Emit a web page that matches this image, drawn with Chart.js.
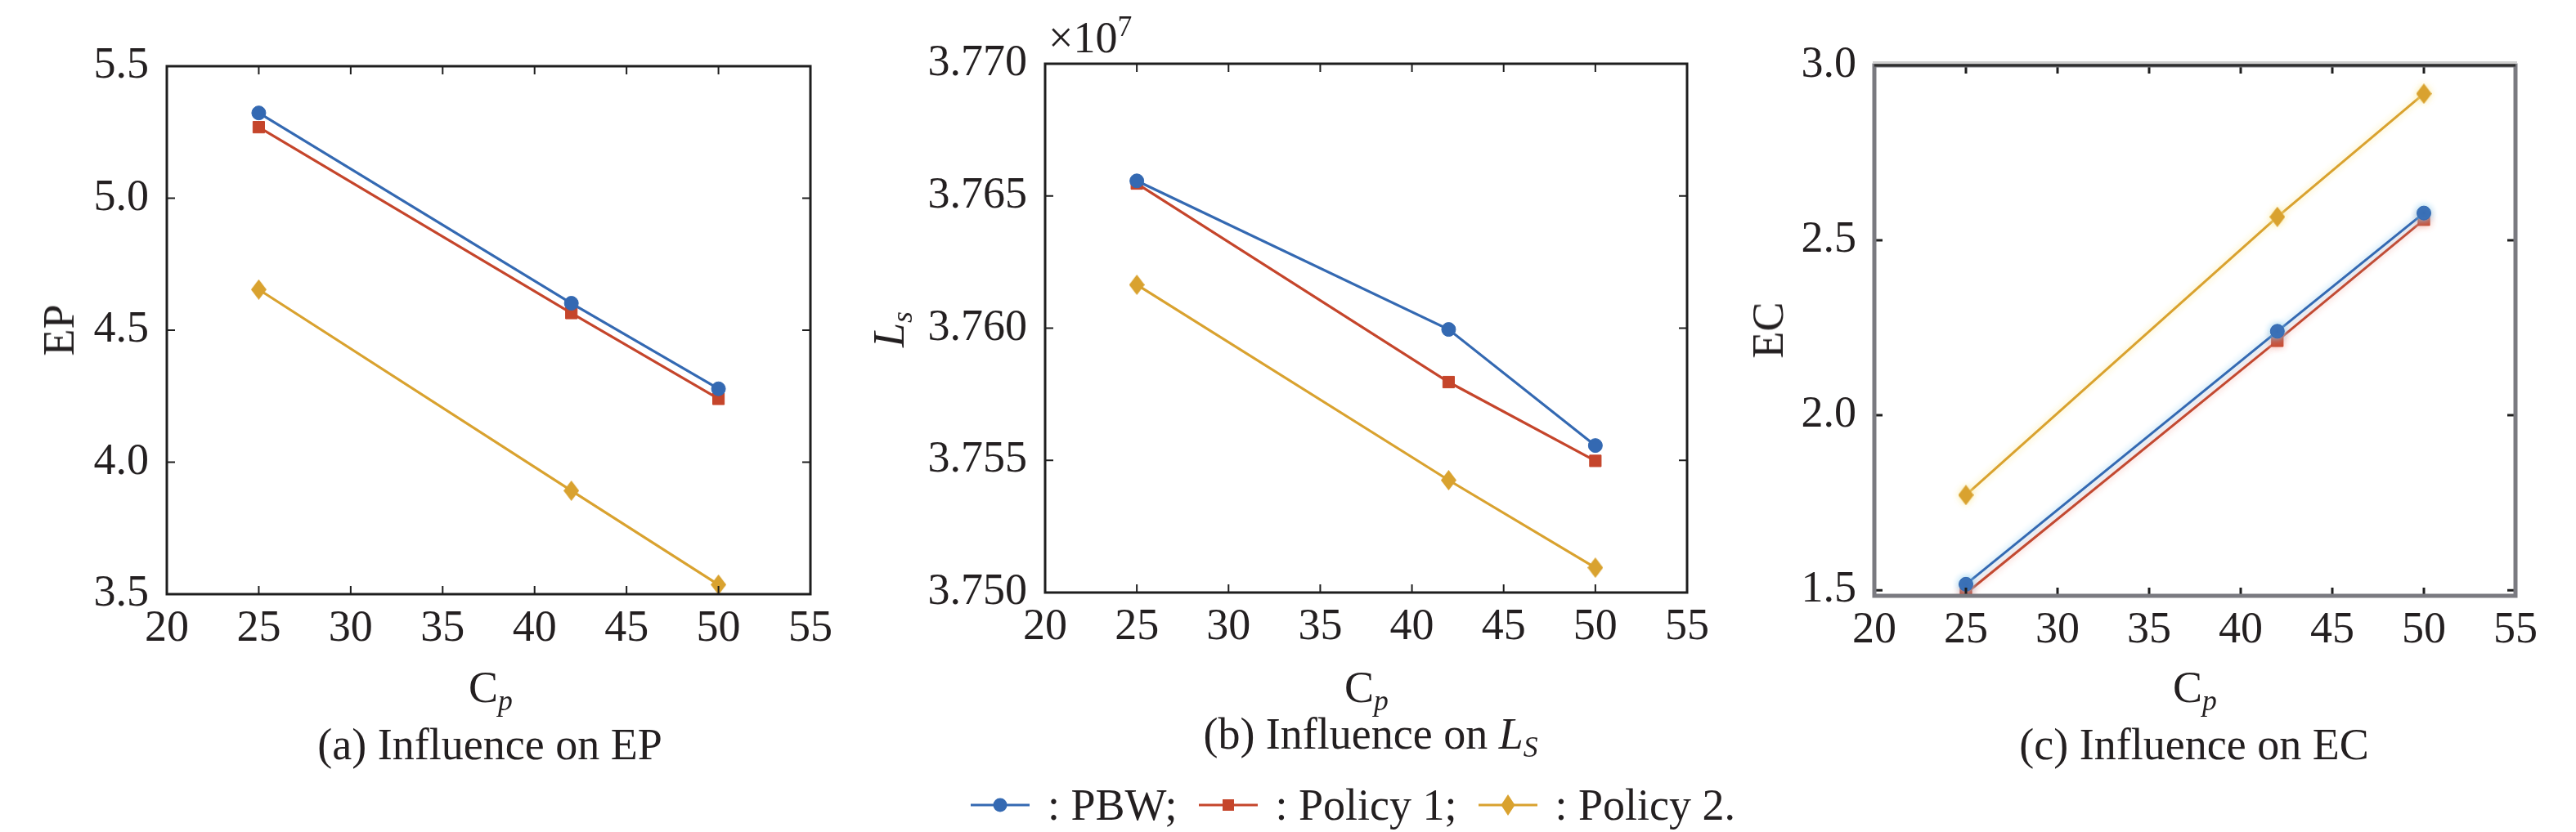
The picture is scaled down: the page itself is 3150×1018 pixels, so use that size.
<!DOCTYPE html>
<html>
<head>
<meta charset="utf-8">
<script src="https://cdn.jsdelivr.net/npm/chart.js@4.4.1/dist/chart.umd.min.js"></script>
<style>
html,body{margin:0;padding:0;background:#fff;}
body{width:3150px;height:1018px;position:relative;overflow:hidden;font-family:"Liberation Serif","Times New Roman",serif;color:#231f20;}
.panel{position:absolute;top:0;width:1050px;height:1018px;}
.t{position:absolute;white-space:nowrap;font-size:54px;line-height:1;transform:translate(-50%,-50%);}
.rot{transform:translate(-50%,-50%) rotate(-90deg);}
sub{font-size:0.66em;vertical-align:-0.28em;line-height:0;}
sup{font-size:0.66em;vertical-align:0.55em;line-height:0;}
#legend{position:absolute;left:1187px;top:985px;transform:translateY(-50%);display:flex;align-items:center;font-size:54px;line-height:1;white-space:nowrap;}
#legend svg{display:block;margin-right:22px;}
#legend span{margin-right:26px;}
</style>
</head>
<body>
<div class="panel" style="left:0px"><canvas id="cA"></canvas></div>
<div class="panel" style="left:1050px"><canvas id="cB"></canvas></div>
<div class="panel" style="left:2100px"><canvas id="cC"></canvas></div>

<div class="t rot" style="left:72px;top:404px">EP</div>
<div class="t rot" style="left:1087px;top:403px"><i>L</i><sub><i>s</i></sub></div>
<div class="t rot" style="left:2162px;top:404px">EC</div>

<div class="t" style="left:600px;top:841px">C<sub><i>p</i></sub></div>
<div class="t" style="left:1671px;top:841px">C<sub><i>p</i></sub></div>
<div class="t" style="left:2684px;top:841px">C<sub><i>p</i></sub></div>

<div class="t" style="left:599px;top:911px">(a) Influence on EP</div>
<div class="t" style="left:1676px;top:898px">(b) Influence on <i>L</i><sub><i>S</i></sub></div>
<div class="t" style="left:2683px;top:911px">(c) Influence on EC</div>

<div class="t" style="left:1282px;top:46px;transform:translateY(-50%)">×10<sup>7</sup></div>

<div id="legend"></div>

<script>
// ---------- data ----------
const cpValues = [25, 42, 50];
const seriesNames = ['PBW', 'Policy 1', 'Policy 2'];
const legendTexts = [': PBW;', ': Policy 1;', ': Policy 2.'];

const epPBW     = [5.323, 4.602, 4.278];
const epPolicy1 = [5.269, 4.565, 4.240];
const epPolicy2 = [4.654, 3.892, 3.536];

const lsPBW     = [37655700, 37599500, 37555600];
const lsPolicy1 = [37654700, 37579600, 37549800];
const lsPolicy2 = [37616400, 37542500, 37509400];

const ecPBW     = [1.517, 2.240, 2.578];
const ecPolicy1 = [1.491, 2.213, 2.559];
const ecPolicy2 = [1.772, 2.567, 2.919];

const xRange  = [20, 55];
const xStep   = 5;
const epRange = [3.5, 5.5];
const lsRange = [37500000, 37700000];
const ecRange = [1.484, 3.0];
const epStep = 0.5, lsStep = 50000, ecStep = 0.5;
const lsScale = 1e7;

// ---------- styles ----------
const BLUE = '#3469b2', RED = '#c5452b', YELLOW = '#d9a22f';
const COLORS = [BLUE, RED, YELLOW];
const FONT = "'Liberation Serif', 'Times New Roman', serif";
const TEXT = '#231f20';
Chart.defaults.font.family = FONT;

function diamondCanvas(w, h, color) {
  const c = document.createElement('canvas');
  c.width = w; c.height = h;
  const g = c.getContext('2d');
  g.fillStyle = color;
  g.beginPath();
  g.moveTo(w/2, 0); g.lineTo(w, h/2); g.lineTo(w/2, h); g.lineTo(0, h/2);
  g.closePath(); g.fill();
  return c;
}
const diamond = diamondCanvas(19, 25, YELLOW);

function pts(ys) { return cpValues.map((x, i) => ({x: x, y: ys[i]})); }

function buildDatasets(series, variant) {
  const soft = variant === 'c';
  const lw = soft ? 3 : 3.2;
  return [
    {label: seriesNames[0], data: pts(series[0]), borderColor: BLUE, backgroundColor: BLUE,
     pointStyle: 'circle', pointRadius: 8.5, pointBorderWidth: 1, borderWidth: lw,
     shadowColor: 'rgba(140,205,240,0.95)'},
    {label: seriesNames[1], data: pts(series[1]), borderColor: RED, backgroundColor: RED,
     pointStyle: 'rect', pointRadius: 10, pointBorderWidth: 1, borderWidth: lw,
     shadowColor: 'rgba(245,175,165,0.95)'},
    {label: seriesNames[2], data: pts(series[2]), borderColor: YELLOW, backgroundColor: YELLOW,
     pointStyle: diamond, pointRadius: 10, pointBorderWidth: 1, borderWidth: lw,
     shadowColor: 'rgba(250,232,150,0.95)'}
  ];
}

// frame + inward ticks
const framePlugin = {
  id: 'frame',
  afterDatasetsDraw(chart, args, o) {
    const {ctx, chartArea: a, scales} = chart;
    ctx.save();
    ctx.strokeStyle = o.tickColor; ctx.lineWidth = o.tickWidth;
    const L = o.tickLen;
    scales.x.ticks.forEach(t => {
      const px = scales.x.getPixelForValue(t.value);
      if (px <= a.left + 2 || px >= a.right - 2) return;
      ctx.beginPath();
      ctx.moveTo(px, a.bottom); ctx.lineTo(px, a.bottom - L);
      ctx.moveTo(px, a.top); ctx.lineTo(px, a.top + L);
      ctx.stroke();
    });
    scales.y.ticks.forEach(t => {
      const py = scales.y.getPixelForValue(t.value);
      if (py <= a.top + 2 || py >= a.bottom - 2) return;
      ctx.beginPath();
      ctx.moveTo(a.left, py); ctx.lineTo(a.left + L, py);
      ctx.moveTo(a.right, py); ctx.lineTo(a.right - L, py);
      ctx.stroke();
    });
    ctx.strokeStyle = o.color; ctx.lineWidth = o.width;
    ctx.strokeRect(a.left, a.top, a.width, a.height);
    if (o.topColor) {
      ctx.strokeStyle = o.topLight; ctx.lineWidth = 3;
      ctx.beginPath(); ctx.moveTo(a.left - 2, a.top - 3.5); ctx.lineTo(a.right + 2, a.top - 3.5); ctx.stroke();
      ctx.strokeStyle = o.topColor; ctx.lineWidth = 3;
      ctx.beginPath(); ctx.moveTo(a.left, a.top); ctx.lineTo(a.right, a.top); ctx.stroke();
    }
    ctx.restore();
  }
};

// soft halo for panel (c)
const haloPlugin = {
  id: 'halo',
  beforeDatasetDraw(chart, args, o) {
    if (!o.on) return;
    const ctx = chart.ctx;
    ctx.save();
    ctx.shadowColor = chart.data.datasets[args.index].shadowColor;
    ctx.shadowBlur = 8;
  },
  afterDatasetDraw(chart, args, o) {
    if (!o.on) return;
    chart.ctx.restore();
  }
};

function makePanel(id, series, yr, ystep, fmt, geo, variant) {
  const soft = variant === 'c';
  new Chart(document.getElementById(id), {
    type: 'line',
    data: {datasets: buildDatasets(series, variant)},
    options: {
      responsive: true, maintainAspectRatio: false, animation: false, devicePixelRatio: 1,
      layout: {padding: {left: 0, right: geo.padRight, top: geo.padTop, bottom: 0}},
      plugins: {
        legend: {display: false}, tooltip: {enabled: false},
        frame: soft
          ? {color: '#7a7a80', width: 5, tickColor: '#1e1e1e', tickWidth: 3, tickLen: 10, topColor: '#2e2e2e', topLight: '#cfcfcf'}
          : {color: '#1e1e1e', width: 3, tickColor: '#1e1e1e', tickWidth: 2, tickLen: 10},
        halo: {on: soft}
      },
      scales: {
        x: {
          type: 'linear', min: xRange[0], max: xRange[1],
          ticks: {stepSize: xStep, autoSkip: false, maxRotation: 0, padding: 10,
                  color: TEXT, font: {family: FONT, size: 54}},
          grid: {display: false, drawTicks: false},
          border: {display: false},
          afterFit: s => { s.height = geo.xHeight; }
        },
        y: {
          type: 'linear', min: yr[0], max: yr[1],
          ticks: {stepSize: ystep, includeBounds: false, autoSkip: false, padding: 22,
                  color: TEXT, font: {family: FONT, size: 54}, callback: fmt},
          grid: {display: false, drawTicks: false},
          border: {display: false},
          afterFit: s => { s.width = geo.yWidth; }
        }
      }
    },
    plugins: [framePlugin, haloPlugin]
  });
}

makePanel('cA', [epPBW, epPolicy1, epPolicy2], epRange, epStep,
  v => v.toFixed(1), {padRight: 59, padTop: 81, yWidth: 204, xHeight: 291}, 'a');
makePanel('cB', [lsPBW, lsPolicy1, lsPolicy2], lsRange, lsStep,
  v => (v / lsScale).toFixed(3), {padRight: 35, padTop: 78, yWidth: 228, xHeight: 293}, 'b');
makePanel('cC', [ecPBW, ecPolicy1, ecPolicy2], ecRange, ecStep,
  v => v.toFixed(1), {padRight: 74, padTop: 80, yWidth: 192, xHeight: 289}, 'c');

// ---------- legend ----------
const legend = document.getElementById('legend');
const markerSvg = [
  c => `<circle cx="36" cy="15" r="8.5" fill="${c}"/>`,
  c => `<rect x="29" y="8" width="14" height="14" fill="${c}"/>`,
  c => `<polygon points="36,2 44.5,15 36,28 27.5,15" fill="${c}"/>`
];
seriesNames.forEach((name, i) => {
  const c = COLORS[i];
  legend.insertAdjacentHTML('beforeend',
    `<svg width="72" height="30" viewBox="0 0 72 30"><line x1="0" y1="15" x2="72" y2="15" stroke="${c}" stroke-width="3.2"/>${markerSvg[i](c)}</svg><span>${legendTexts[i]}</span>`);
});
</script>
</body>
</html>
